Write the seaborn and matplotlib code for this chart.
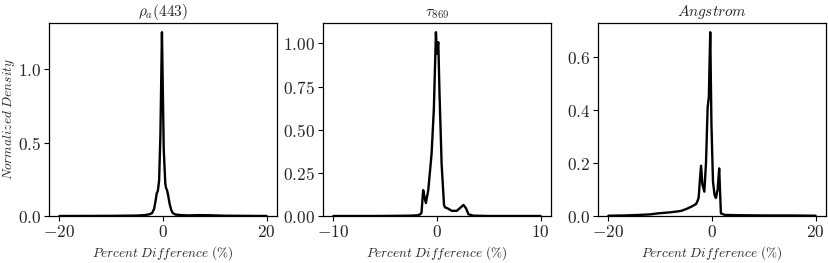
import matplotlib
matplotlib.use("Agg")
import matplotlib.pyplot as plt
import seaborn as sns
import pandas as pd

# density curves
rho_x = [-20, -15, -10, -5, -3.5, -2.6, -2.1, -1.7, -1.4, -1.2, -1.0, -0.75, -0.5, -0.35,
         -0.2, -0.05, 0.15, 0.45, 0.6, 0.78, 1.0, 1.3, 1.6, 1.9, 2.4, 3.5, 5, 7, 9, 12, 16, 20]
rho_d = [0.0, 0.0005, 0.001, 0.003, 0.006, 0.012, 0.02, 0.05, 0.11, 0.155, 0.17, 0.24, 0.55, 0.9,
         1.254, 0.9, 0.45, 0.22, 0.19, 0.177, 0.14, 0.08, 0.04, 0.02, 0.01, 0.006, 0.004, 0.006, 0.005, 0.002, 0.001, 0.0]

tau_x = [-10, -8, -6, -4, -2.5, -1.9, -1.6, -1.49, -1.33, -1.2, -1.07, -0.84, -0.52, -0.3, -0.2,
         -0.1, 0.0, 0.05, 0.13, 0.25, 0.45, 0.68, 0.78, 1.0, 1.43, 1.91, 2.2, 2.56, 2.8, 3.04, 3.5, 5, 7, 10]
tau_d = [0.0, 0.0, 0.0, 0.001, 0.002, 0.004, 0.01, 0.02, 0.15, 0.11, 0.075, 0.15, 0.36, 0.62, 0.84,
         1.065, 0.94, 0.98, 1.007, 0.7, 0.3, 0.064, 0.05, 0.045, 0.03, 0.03, 0.045, 0.064, 0.045, 0.01, 0.002, 0.0, 0.0, 0.0]

ang_x = [-20, -17, -14, -12, -10.4, -8, -6.0, -5, -4.0, -3.08, -2.75, -2.56, -2.35, -2.1, -1.85,
         -1.47, -1.15, -0.83, -0.6, -0.33, -0.1, 0.2, 0.5, 0.77, 1.1, 1.4, 1.55, 1.73, 2.5, 5, 10, 15, 20]
ang_d = [0.001, 0.002, 0.004, 0.006, 0.01, 0.014, 0.019, 0.026, 0.035, 0.045, 0.058, 0.07, 0.13, 0.19, 0.12,
         0.092, 0.2, 0.41, 0.45, 0.695, 0.35, 0.13, 0.08, 0.068, 0.1, 0.18, 0.1, 0.01, 0.004, 0.003, 0.002, 0.002, 0.001]

titles = [r"$\rho_a(443)$", r"$\tau_{869}$", r"$Angstrom$"]
xlabel = r"$Percent\ Difference\ (\%)$"
ylabel = r"$Normalized\ Density$"

sns.set_theme(style="ticks")
plt.rcParams["font.family"] = "serif"
plt.rcParams["font.serif"] = ["cmr10", "DejaVu Serif"]
plt.rcParams["mathtext.fontset"] = "cm"
plt.rcParams["axes.formatter.use_mathtext"] = True
plt.rcParams["axes.unicode_minus"] = True

fig = plt.figure(figsize=(8.29, 2.63), dpi=100)
positions = [[0.0591, 0.1787, 0.2750, 0.7338],
             [0.3896, 0.1787, 0.2750, 0.7338],
             [0.7213, 0.1787, 0.2750, 0.7338]]

curves = [(rho_x, rho_d), (tau_x, tau_d), (ang_x, ang_d)]
for i, (xs, ds) in enumerate(curves):
    ax = fig.add_axes(positions[i])
    df = pd.DataFrame({"x": xs, "d": ds})
    sns.lineplot(data=df, x="x", y="d", ax=ax, color="black", linewidth=1.7, sort=False)
    ax.set_ylim(bottom=0)
    ax.set_title(titles[i], fontsize=11, pad=5)
    ax.set_xlabel(xlabel, fontsize=9.5, labelpad=3)
    if i == 0:
        ax.set_ylabel(ylabel, fontsize=9.5)
        ax.yaxis.set_label_coords(-0.14, 0.5)
    else:
        ax.set_ylabel("")
    ax.tick_params(labelsize=12.5, length=3.5, width=0.8, color="black", pad=2)
    for sp in ax.spines.values():
        sp.set_color("black")
        sp.set_linewidth(0.9)

fig.savefig("out.png", dpi=100)
